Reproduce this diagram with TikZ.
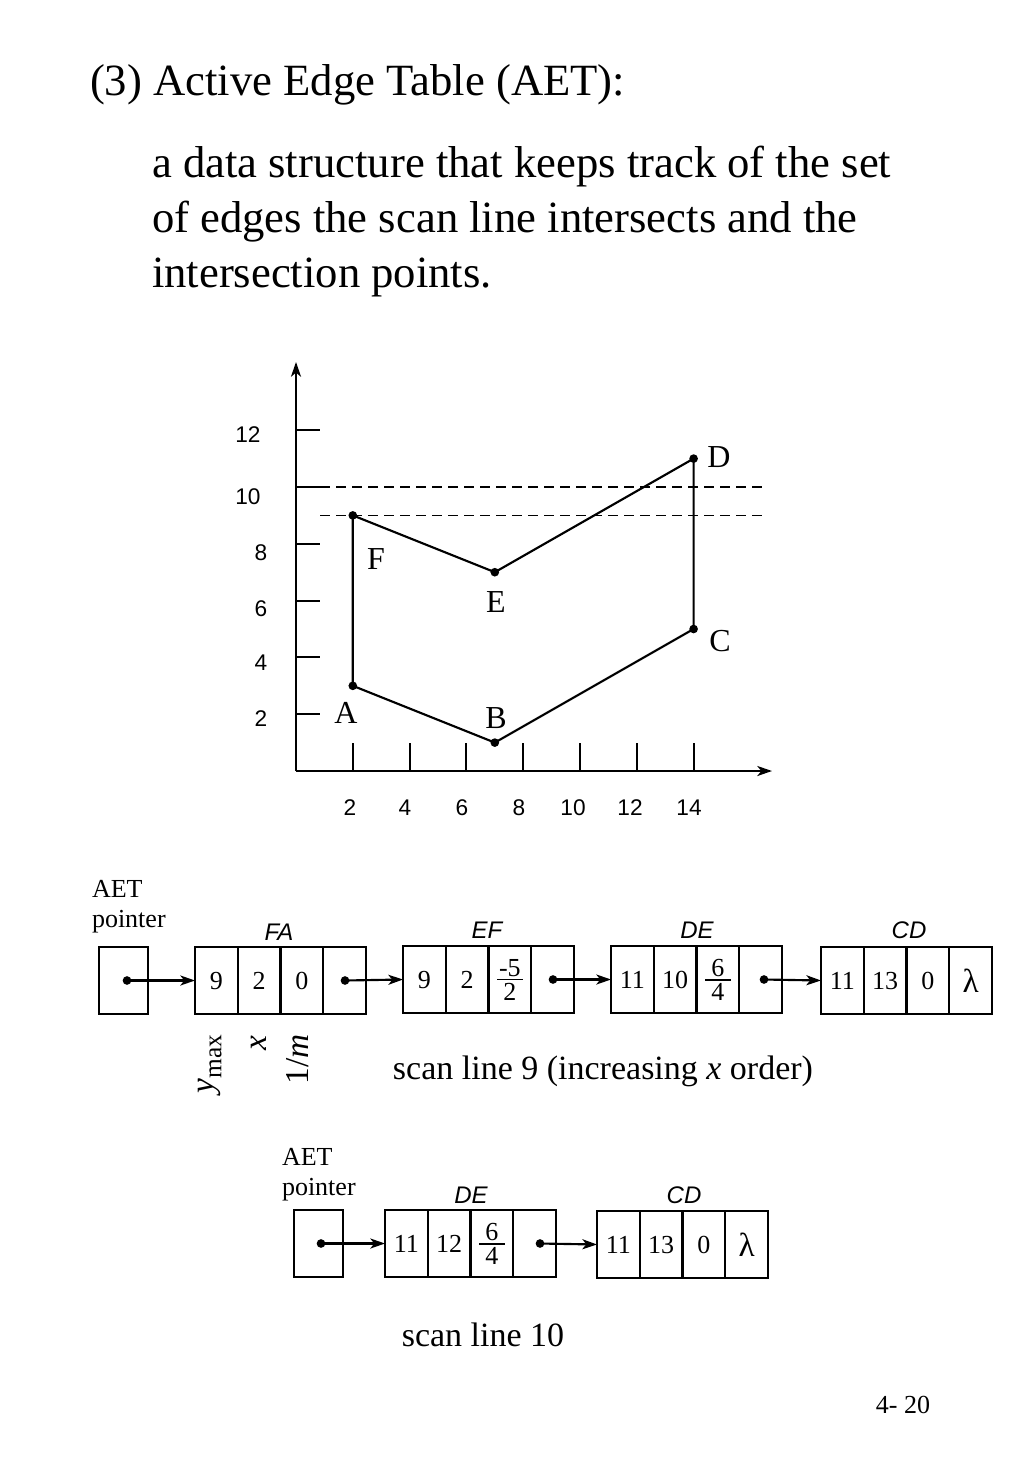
\documentclass[tikz,border=0pt]{standalone}
\usepackage{fontspec}
\setmainfont{Liberation Serif}
\setsansfont{Liberation Sans}
\usetikzlibrary{arrows.meta}
\newcommand\titlefont{\fontsize{33.5}{41.25}\selectfont}
\newcommand\cellfont{\fontsize{19.5}{19.5}\selectfont}
\newcommand\ptrfont{\fontsize{19.5}{24}\selectfont}
\newcommand\edgefont{\sffamily\itshape\fontsize{18}{18}\selectfont}
\newcommand\axfont{\sffamily\fontsize{17}{17}\selectfont}
\newcommand\vxfont{\fontsize{24}{24}\selectfont}
\newcommand\scanfont{\fontsize{25.5}{30}\selectfont}
\newcommand\fldfont{\fontsize{25}{25}\selectfont}
\newcommand\mylam{\smash{\raisebox{-2.5pt}{\fontsize{25}{25}\selectfont λ}}}
\newcommand\myfr[2]{\smash{\raisebox{-9.4pt}{\vbox{\hbox to 19pt{\hfil#1\hfil}\kern2pt\hrule height 1pt\kern2.5pt\hbox to 19pt{\hfil#2\hfil}}}}}
\newcommand\myrec[7]{%
  \node[cell,anchor=west] (#1a) at (#2,#3) {#4};
  \node[cell,anchor=west] (#1b) at (#1a.east) {#5};
  \node[cell,anchor=west] (#1c) at (#1b.east) {#6};
  \node[cell,anchor=west] (#1d) at (#1c.east) {#7};
}
\begin{document}
\begin{tikzpicture}[x=0.75pt,y=-0.75pt,
  ln/.style={line width=1.6pt},
  arr/.style={line width=1.6pt,-{Stealth[length=11pt,width=7.5pt,inset=3pt]}},
  cell/.style={draw,line width=1.6pt,minimum width=32.06pt,minimum height=50pt,inner sep=0pt,outer sep=0pt,text height=13.4pt,text depth=0pt,font=\cellfont},
  ptrbox/.style={draw,line width=1.6pt,minimum width=36.75pt,minimum height=50pt,inner sep=0pt,outer sep=0pt},
  dotst/.style={circle,fill,inner sep=0pt,minimum size=6.5pt},
  vdot/.style={circle,fill,inner sep=0pt,minimum size=6.5pt},
  dashst/.style={line width=1.3pt,dash pattern=on 7.5pt off 4.5pt},
  txt/.style={inner sep=0pt,outer sep=0pt}
]
\fill[white] (0,0) rectangle (1024,1479);
\useasboundingbox (0,0) rectangle (1024,1479);

% ---- heading text ----
\node[txt,anchor=base west,font=\titlefont] (title) at (90,95) {(3) Active Edge Table (AET):};
\node[txt,anchor=base west,font=\titlefont] (l1) at (152,177) {a data structure that keeps track of the set};
\node[txt,anchor=base west,font=\titlefont] (l2) at (152,232) {of edges the scan line intersects and the};
\node[txt,anchor=base west,font=\titlefont] (l3) at (152,287) {intersection points.};

% ---- graph ----
\coordinate (O) at (296,771);
\coordinate (Ytop) at (296,362);
\coordinate (Xend) at (772,771);
\draw[arr] (O) -- (Ytop);
\draw[arr] (O) -- (Xend);
\foreach \k/\yy in {1/714.2,2/657.4,3/600.6,4/543.8,5/487,6/430.2}{
  \draw[ln] (296,\yy) -- (320,\yy);
}
\foreach \k/\xx in {1/352.8,2/409.6,3/466.4,4/523.2,5/580,6/636.8,7/693.6}{
  \draw[ln] (\xx,771) -- (\xx,743);
}
\node[txt,font=\axfont] (y12) at (248,435) {12};
\node[txt,font=\axfont] (y10) at (248,497) {10};
\node[txt,font=\axfont] (y8) at (261,553) {8};
\node[txt,font=\axfont] (y6) at (261,609) {6};
\node[txt,font=\axfont] (y4) at (261,663) {4};
\node[txt,font=\axfont] (y2) at (261,719) {2};
\node[txt,font=\axfont] (x2) at (350,808) {2};
\node[txt,font=\axfont] (x4) at (405,808) {4};
\node[txt,font=\axfont] (x6) at (462,808) {6};
\node[txt,font=\axfont] (x8) at (519,808) {8};
\node[txt,font=\axfont] (x10) at (573,808) {10};
\node[txt,font=\axfont] (x12) at (630,808) {12};
\node[txt,font=\axfont] (x14) at (689,808) {14};

\coordinate (d10a) at (320,487);
\coordinate (d10b) at (762,487);
\coordinate (d9a) at (320,515.4);
\coordinate (d9b) at (762,515.4);
\draw[dashst] (d10a) -- (d10b);
\draw[dashst] (d9a) -- (d9b);

\node[vdot] (A) at (352.8,685.8) {};
\node[vdot] (B) at (494.8,742.6) {};
\node[vdot] (C) at (693.6,629) {};
\node[vdot] (D) at (693.6,458.6) {};
\node[vdot] (E) at (494.8,572.2) {};
\node[vdot] (F) at (352.8,515.4) {};
\draw[ln,line join=round] (A.center) -- (B.center) -- (C.center) -- (D.center) -- (E.center) -- (F.center) -- cycle;

\node[txt,font=\vxfont] (lA) at (346,713) {A};
\node[txt,font=\vxfont] (lB) at (496,718) {B};
\node[txt,font=\vxfont] (lC) at (720,641) {C};
\node[txt,font=\vxfont] (lD) at (719,457) {D};
\node[txt,font=\vxfont] (lE) at (496,602) {E};
\node[txt,font=\vxfont] (lF) at (376,559) {F};

% ---- AET, scan line 9 ----
\node[txt,anchor=base west,font=\ptrfont] (aet1) at (92,897) {AET};
\node[txt,anchor=base west,font=\ptrfont] (ptr1) at (92,927) {pointer};
\node[ptrbox] (p1) at (123.5,980.5) {};
\node[dotst] (p1dot) at (127,980.5) {};

\myrec{ra}{195}{980.5}{9}{2}{0}{}
\myrec{rb}{403}{979.5}{9}{2}{\myfr{-5}{2}}{}
\myrec{rc}{611}{979.5}{11}{10}{\myfr{6}{4}}{}
\myrec{rd}{821}{980.5}{11}{13}{0}{\mylam}
\node[dotst] (radot) at (345,980.5) {};
\node[dotst] (rbdot) at (553,979.5) {};
\node[dotst] (rcdot) at (764,979.5) {};

\draw[arr] (p1dot.center) -- (raa.west);
\draw[arr] (radot.center) -- (rba.west);
\draw[arr] (rbdot.center) -- (rca.west);
\draw[arr] (rcdot.center) -- (rda.west);

\node[txt,font=\edgefont] (lFA) at (279,932) {FA};
\node[txt,font=\edgefont] (lEF) at (487,930) {EF};
\node[txt,font=\edgefont] (lDE1) at (697,930) {DE};
\node[txt,font=\edgefont] (lCD1) at (909,930) {CD};

\node[txt,font=\fldfont,rotate=90,anchor=mid east] (fy) at (210,1035) {\itshape y\/\upshape\raisebox{-0.25em}{\fontsize{19}{19}\selectfont max}};
\node[txt,font=\fldfont,rotate=90,anchor=mid east] (fx) at (263,1036) {\itshape x};
\node[txt,font=\fldfont,rotate=90,anchor=mid east] (fm) at (305,1034) {1/\textit{m}};

\node[txt,anchor=base,font=\scanfont] (scan9) at (603,1079) {scan line 9 (increasing \textit{x} order)};

% ---- AET, scan line 10 ----
\node[txt,anchor=base west,font=\ptrfont] (aet2) at (282,1165) {AET};
\node[txt,anchor=base west,font=\ptrfont] (ptr2) at (282,1195) {pointer};
\node[ptrbox] (p2) at (318.5,1243.5) {};
\node[dotst] (p2dot) at (321,1243.5) {};
\myrec{sa}{385}{1243.5}{11}{12}{\myfr{6}{4}}{}
\myrec{sb}{597}{1244.5}{11}{13}{0}{\mylam}
\node[dotst] (sadot) at (540,1243.5) {};
\draw[arr] (p2dot.center) -- (saa.west);
\draw[arr] (sadot.center) -- (sba.west);

\node[txt,font=\edgefont] (lDE2) at (471,1195) {DE};
\node[txt,font=\edgefont] (lCD2) at (684,1195) {CD};

\node[txt,anchor=base,font=\scanfont] (scan10) at (483,1346) {scan line 10};
\node[txt,anchor=base,font=\ptrfont] (page) at (903,1413) {4- 20};
\end{tikzpicture}
\end{document}
